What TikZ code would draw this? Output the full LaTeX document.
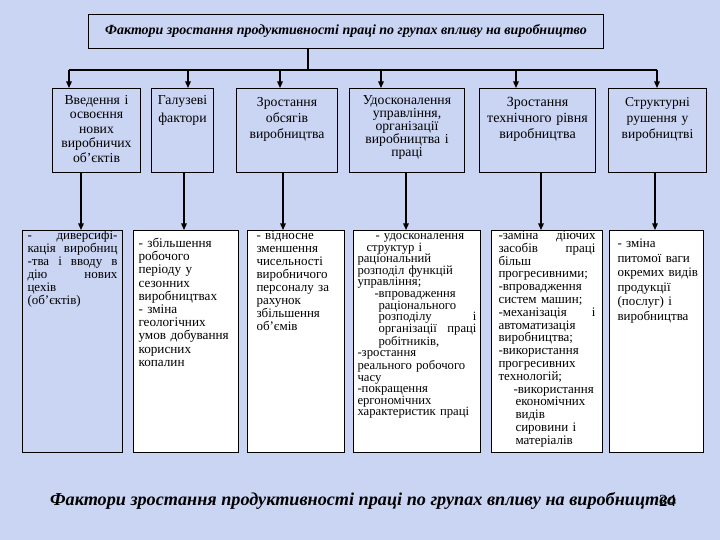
\documentclass[tikz,border=0pt]{standalone}
\usepackage{fontspec}
\setmainfont{Liberation Serif}
\usetikzlibrary{arrows.meta}
\definecolor{bgblue}{RGB}{202,212,243}
% a line stretched to the full width (justified), with optional indent
\newcommand{\fl}[2][0pt]{\hspace*{#1}\makebox[\dimexpr\linewidth-#1\relax][s]{\spaceskip=.3333em plus 1fil\relax #2}}

\begin{document}
\begin{tikzpicture}[x=1pt,y=-1pt,
  topbox/.style={draw,line width=1pt,anchor=north west,align=center,inner xsep=2pt,inner ysep=0pt,
    font=\fontsize{13.7}{14.5}\selectfont,text height=16pt,text depth=68pt},
  lowbox/.style={draw,line width=1pt,fill=white,anchor=north west,align=left,inner xsep=5pt,inner ysep=0pt,
    font=\fontsize{13}{13}\selectfont,text height=9pt,text depth=213pt},
  conn/.style={line width=1.3pt},
  arr/.style={conn,-{Triangle[length=6.5pt,width=5.5pt]}}]
 \fill[bgblue] (0,0) rectangle (720,540);
 % title
 \node[draw,line width=1pt,anchor=north west,minimum width=515pt,minimum height=34pt,
   font=\fontsize{14}{16}\selectfont\bfseries\itshape] (title) at (88,14)
   {Фактори зростання продуктивності праці по групах впливу на виробництво};
 % groups
 \node[topbox,text width=84pt] (t1) at (52,88) {Введення і\\освоєння\\нових\\виробничих\\об’єктів};
 \node[topbox,text width=58pt] (t2) at (151,88) {Галузеві\\[4pt]фактори};
 \node[topbox,text width=97pt,text height=18pt,text depth=66pt,font=\fontsize{13.7}{16}\selectfont] (t3) at (236,88) {Зростання\\обсягів\\виробництва};
 \node[topbox,text width=111pt,font=\fontsize{13.7}{13}\selectfont] (t4) at (349,88) {Удосконалення\\управління,\\організації\\виробництва і\\праці};
 \node[topbox,text width=112pt,text height=18pt,text depth=66pt,font=\fontsize{14}{16}\selectfont] (t5) at (479,88) {Зростання\\технічного рівня\\виробництва};
 \node[topbox,text width=94pt,text height=18pt,text depth=66pt,font=\fontsize{13.5}{16}\selectfont] (t6) at (608,88) {Структурні\\рушення у\\виробництві};
 % factors
 \node[lowbox,fill=none,text width=90pt] (u1) at (22,230)
   {\fl{- диверсифі-}\\\fl{кація виробниц}\\\fl{-тва і вводу в}\\\fl{дію нових}\\цехів\\(об’єктів)};
 \node[lowbox,text width=95pt,text height=17pt,text depth=205pt,font=\fontsize{13.2}{13.2}\selectfont] (u2) at (133,230)
   {- збільшення\\робочого\\періоду у\\сезонних\\виробництвах\\- зміна\\геологічних\\умов добування\\корисних\\копалин};
 \node[lowbox,inner xsep=9pt,text width=79pt] (u3) at (247,230)
   {- відносне\\зменшення\\чисельності\\виробничого\\персоналу за\\рахунок\\збільшення\\об’ємів};
 \node[lowbox,inner xsep=4pt,text width=119pt,font=\fontsize{12.7}{11.6}\selectfont] (u4) at (353,230)
   {\hspace*{18pt}- удосконалення\\\hspace*{9pt}структур і\\раціональний\\розподіл функцій\\управління;\\
    \hspace*{17pt}-впровадження\\\hspace*{21pt}раціонального\\\fl[21pt]{розподілу і}\\\fl[21pt]{організації праці}\\
    \hspace*{21pt}робітників,\\-зростання\\реального робочого\\часу\\-покращення\\ергономічних\\характеристик праці};
 \node[lowbox,inner xsep=7pt,text width=97pt,font=\fontsize{13}{12.8}\selectfont] (u5) at (491,230)
   {\fl{-заміна діючих}\\\fl{засобів праці}\\більш\\прогресивними;\\-впровадження\\систем машин;\\\fl{-механізація і}\\
    автоматизація\\виробництва;\\-використання\\прогресивних\\технологій;\\\hspace*{15pt}-використання\\
    \hspace*{17pt}економічних\\\hspace*{17pt}видів\\\hspace*{17pt}сировини і\\\hspace*{17pt}матеріалів};
 \node[lowbox,inner xsep=5pt,text width=84pt,text height=17pt,text depth=205pt,font=\fontsize{13}{14.5}\selectfont] (u6) at (609,230)
   {\hspace*{3pt}- зміна\\\hspace*{3pt}питомої ваги\\\hspace*{3pt}окремих видів\\\hspace*{3pt}продукції\\\hspace*{3pt}(послуг) і\\\hspace*{3pt}виробництва};
 % connectors
 \coordinate (bus) at (308,70);
 \draw[conn] (title.south -| bus) -- (bus);
 \foreach \i/\x in {1/69,2/188,3/280,4/381,5/516,6/657}
   \coordinate (b\i) at (\x,70);
 \draw[conn] (b1) -- (b6);
 \foreach \i in {1,...,6}
   \draw[arr] (b\i) -- (b\i |- t\i.north);
 \foreach \i/\x in {1/81,2/184,3/283,4/406,5/541,6/655}{
   \coordinate (d\i) at (\x,200);
   \draw[arr] (t\i.south -| d\i) -- (u\i.north -| d\i);
 }
 % caption
 \node[anchor=west,inner sep=0pt,font=\fontsize{18.2}{20}\selectfont\bfseries\itshape] (cap) at (50,501)
   {Фактори зростання продуктивності праці по групах впливу на виробництво};
 \node[anchor=west,inner sep=0pt,font=\fontsize{17}{19}\selectfont] (pnum) at (659,501) {24};
\end{tikzpicture}
\end{document}
